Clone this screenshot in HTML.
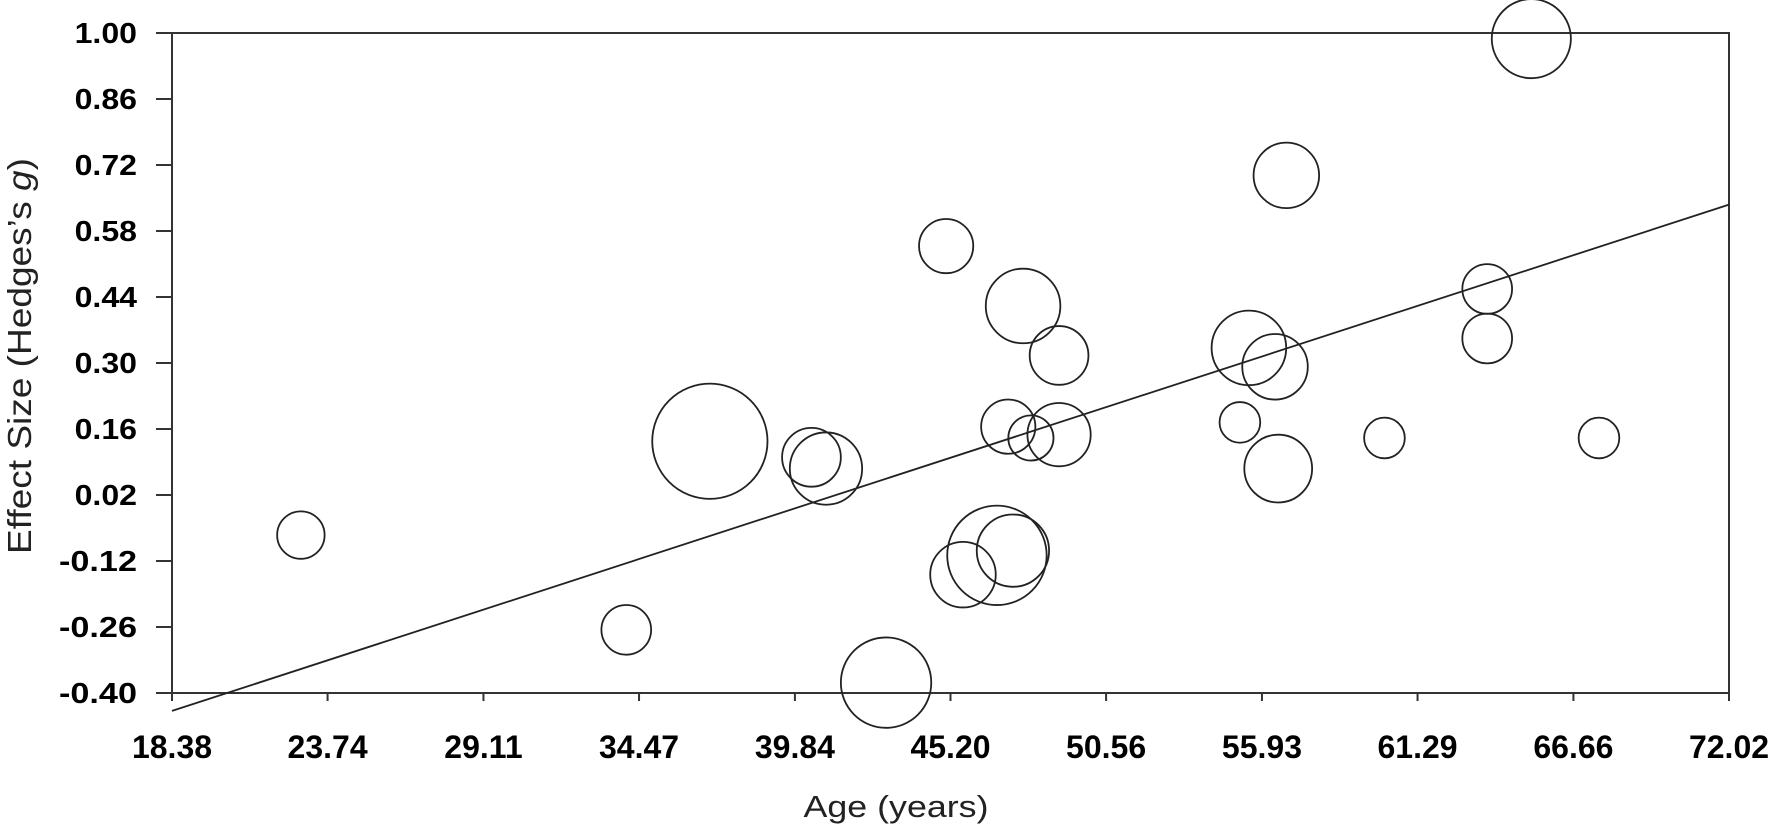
<!DOCTYPE html>
<html><head><meta charset="utf-8">
<style>
html,body{margin:0;padding:0;background:#fff;}
svg{display:block;font-family:"Liberation Sans",Arial,sans-serif;}
</style></head>
<body>
<svg id="chart" width="1772" height="828" viewBox="0 0 1772 828" xmlns="http://www.w3.org/2000/svg"></svg>
<script>
const xTicks = ["18.38","23.74","29.11","34.47","39.84","45.20","50.56","55.93","61.29","66.66","72.02"];
const yTicks = ["1.00","0.86","0.72","0.58","0.44","0.30","0.16","0.02","-0.12","-0.26","-0.40"];
const ages = [22.82,34.03,36.91,40.41,40.91,42.98,45.05,45.63,46.80,47.35,47.19,47.97,47.70,48.94,48.94,55.17,55.48,56.38,56.49,56.77,60.15,63.69,63.69,65.21,67.54];
const effects = [-0.065,-0.266,0.134,0.100,0.076,-0.378,0.548,-0.149,-0.108,-0.098,0.165,0.141,0.421,0.316,0.148,0.174,0.332,0.292,0.076,0.698,0.141,0.457,0.352,0.988,0.141];
const weights = [21,22,51,26,32,40,24,29,44,32,24,20,33,26,28,18,33,29,30,29,18,22,22,35,18];
const fitX = [18.38,72.02];
const fitY = [-0.438,0.636];

const X0=172,X1=1729,Y0=693,Y1=33;
const xMin=18.38,xMax=72.02,yMin=-0.40,yMax=1.00;
const sx=v=>X0+(v-xMin)/(xMax-xMin)*(X1-X0);
const sy=v=>Y0-(v-yMin)/(yMax-yMin)*(Y0-Y1);
const rScale=1.13;
const svg=document.getElementById('chart');
const NS='http://www.w3.org/2000/svg';
function mk(tag,attrs,parent){const e=document.createElementNS(NS,tag);for(const k in attrs)e.setAttribute(k,attrs[k]);(parent||svg).appendChild(e);return e;}

let f=mk('rect',{x:X0,y:Y1,width:X1-X0,height:Y0-Y1,fill:'none',stroke:'#333','stroke-width':2});



const yg=mk('g',{});


yTicks.forEach(t=>{
  const y=sy(parseFloat(t));
  mk('line',{x1:156,x2:X0,y1:y,y2:y,stroke:'#333','stroke-width':2},yg);
  const tx=mk('text',{x:137,y:y+10,'text-anchor':'end','font-size':29,'font-weight':'bold',fill:'#000',textLength:(t.length*15.6),lengthAdjust:'spacingAndGlyphs'},yg);
  tx.textContent=t;
  
  
});
const xg=mk('g',{});


xTicks.forEach(t=>{
  const x=sx(parseFloat(t));
  mk('line',{x1:x,x2:x,y1:Y0,y2:Y0+8,stroke:'#333','stroke-width':2},xg);
  const tx=mk('text',{x:x,y:758,'text-anchor':'middle','font-size':32,'font-weight':'bold',fill:'#000'},xg);
  tx.textContent=t;
  
  
});
const xt=mk('text',{x:896,y:817,'text-anchor':'middle','font-size':31,fill:'#222',textLength:185,lengthAdjust:'spacingAndGlyphs'});
xt.textContent='Age (years)';


const yt=mk('text',{x:0,y:0,'text-anchor':'middle','font-size':33,fill:'#222',textLength:396,lengthAdjust:'spacingAndGlyphs',transform:'translate(31,356) rotate(-90)'});
yt.innerHTML='Effect Size (Hedges’s <tspan font-style="italic">g</tspan>)';



const fl=mk('line',{x1:sx(fitX[0]),y1:sy(fitY[0]),x2:sx(fitX[1]),y2:sy(fitY[1]),stroke:'#222','stroke-width':1.8});



ages.forEach((a,i)=>{
  const c=mk('circle',{cx:sx(a),cy:sy(effects[i]),r:weights[i]*rScale,fill:'none',stroke:'#222','stroke-width':1.8});
  
  
});
</script>
</body></html>
